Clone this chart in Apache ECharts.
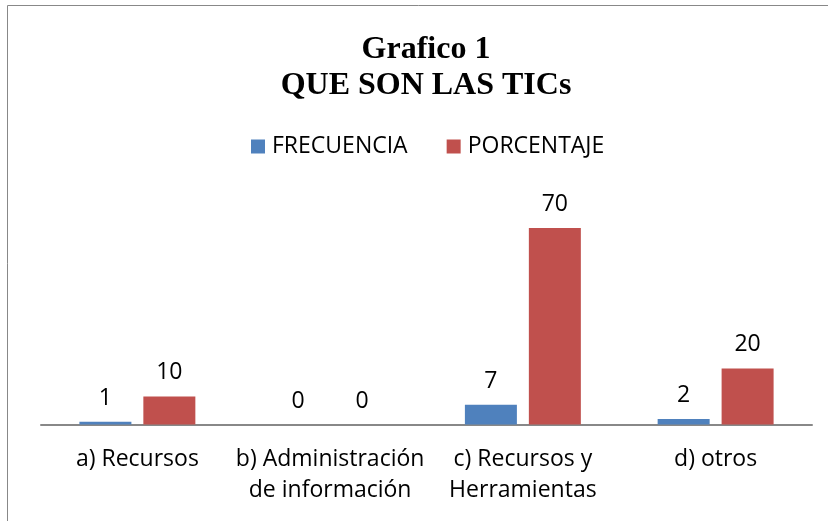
<!DOCTYPE html>
<html><head><meta charset="utf-8">
<script src="https://cdn.jsdelivr.net/npm/echarts@6/dist/echarts.min.js"></script>
<style>html,body{margin:0;padding:0;background:#fff}#c{width:828px;height:521px}</style>
</head><body><div id="c"></div>
<script>
const categories = ['a) Recursos', 'b) Administración\nde información', 'c) Recursos y\nHerramientas', 'd) otros'];
const frecuencia = [1, 0, 7, 2];
const porcentaje = [10, 0, 70, 20];
const seriesNames = ['FRECUENCIA', 'PORCENTAJE'];
const titleText = 'Grafico 1\nQUE SON LAS TICs';

const FONT = '"Open Sans", "Noto Sans", sans-serif';
const chart = echarts.init(document.getElementById('c'), null, {renderer: 'canvas'});
const labelStyle = {show: true, position: 'top', distance: 12, color: '#000', fontSize: 23, fontFamily: FONT};
chart.setOption({
  animation: false,
  graphic: [{type: 'rect', shape: {x: 7.5, y: 5.5, width: 840, height: 540}, style: {fill: 'none', stroke: '#888', lineWidth: 1}}],
  title: {text: titleText, left: 421, textAlign: 'center', top: 27,
    textStyle: {fontFamily: '"Liberation Serif", "Times New Roman", serif', fontWeight: 'bold', fontSize: 32, lineHeight: 36, color: '#000'}},
  legend: {data: seriesNames, top: 130, left: 246, itemWidth: 14, itemHeight: 14, itemGap: 39,
    icon: 'rect', textStyle: {fontFamily: FONT, fontSize: 23, color: '#000', padding: [0, 0, 0, 2]}},
  grid: {left: 41, right: 16, top: 200, bottom: 96.5, containLabel: false},
  xAxis: {type: 'category', data: categories,
    axisLine: {lineStyle: {color: '#888', width: 2}}, axisTick: {show: false},
    axisLabel: {color: '#000', fontFamily: FONT, fontSize: 23, lineHeight: 31, margin: 19, interval: 0}},
  yAxis: {type: 'value', min: 0, max: 80, show: false, splitLine: {show: false}},
  series: [
    {name: seriesNames[0], type: 'bar', data: frecuencia, barWidth: 52, barGap: '23%',
      itemStyle: {color: '#4F81BD'}, label: labelStyle},
    {name: seriesNames[1], type: 'bar', data: porcentaje, barWidth: 52, barGap: '23%',
      itemStyle: {color: '#C0504D'}, label: labelStyle}
  ]
});
</script></body></html>
